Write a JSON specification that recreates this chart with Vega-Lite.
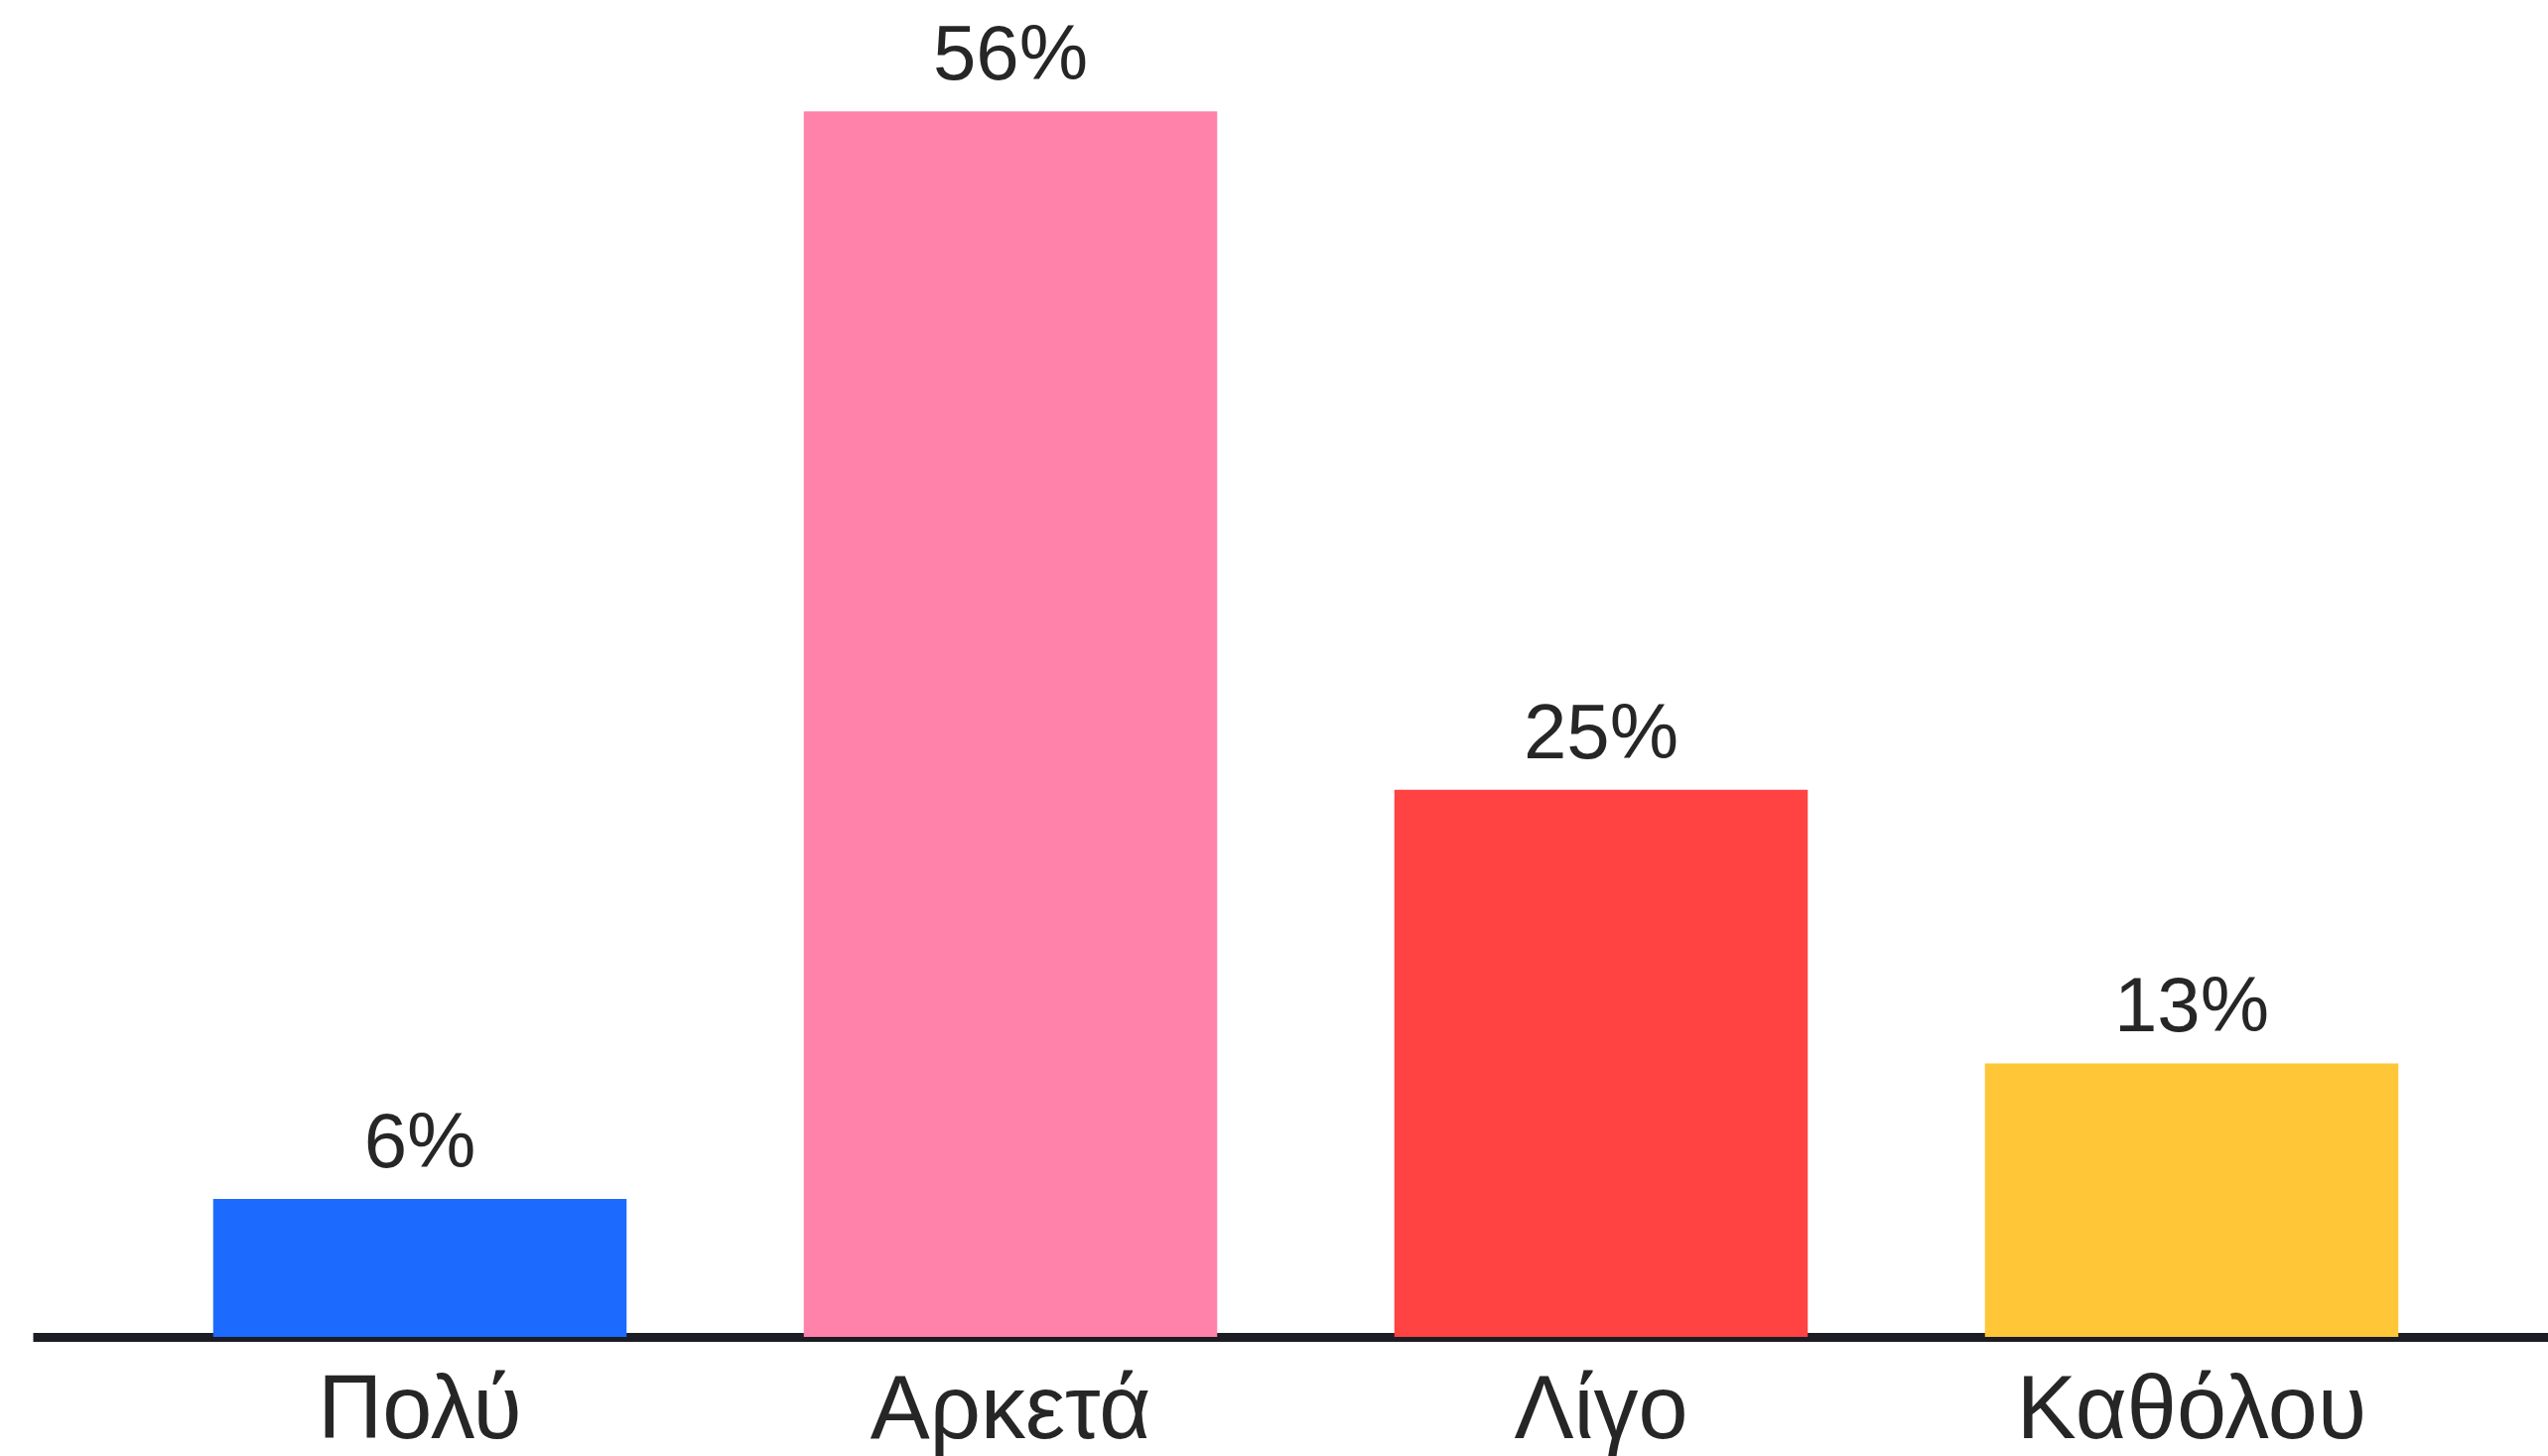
{
  "$schema": "https://vega.github.io/schema/vega-lite/v6.json",
  "width": 2534,
  "height": 1347,
  "autosize": {"type": "none"},
  "padding": {"left": 33, "top": 0, "right": 0, "bottom": 120},
  "background": "#ffffff",
  "config": {"view": {"stroke": null}},
  "data": {
    "values": [
      {"answer": "Πολύ", "value": 6.3, "label": "6%"},
      {"answer": "Αρκετά", "value": 56, "label": "56%"},
      {"answer": "Λίγο", "value": 25, "label": "25%"},
      {"answer": "Καθόλου", "value": 12.5, "label": "13%"}
    ]
  },
  "encoding": {
    "x": {
      "field": "answer",
      "type": "nominal",
      "sort": null,
      "scale": {"range": [0, 2565], "paddingInner": 0.3, "paddingOuter": 0.3055},
      "axis": {
        "title": null,
        "labelAngle": 0,
        "ticks": false,
        "tickSize": 0,
        "domainColor": "#1c1c24",
        "domainWidth": 9,
        "labelFont": "Liberation Sans",
        "labelFontSize": 90,
        "labelColor": "#262626",
        "labelPadding": 30,
        "labelLimit": 2000
      }
    },
    "y": {
      "field": "value",
      "type": "quantitative",
      "scale": {"domain": [0, 61.09], "nice": false},
      "axis": null
    }
  },
  "layer": [
    {
      "mark": {"type": "bar"},
      "encoding": {
        "color": {
          "field": "answer",
          "type": "nominal",
          "legend": null,
          "scale": {
            "domain": ["Πολύ", "Αρκετά", "Λίγο", "Καθόλου"],
            "range": ["#1d6aff", "#ff82ab", "#ff4242", "#ffc637"]
          }
        }
      }
    },
    {
      "mark": {
        "type": "text",
        "baseline": "alphabetic",
        "dy": -32,
        "font": "Liberation Sans",
        "fontSize": 78,
        "color": "#262626"
      },
      "encoding": {"text": {"field": "label"}}
    }
  ]
}
